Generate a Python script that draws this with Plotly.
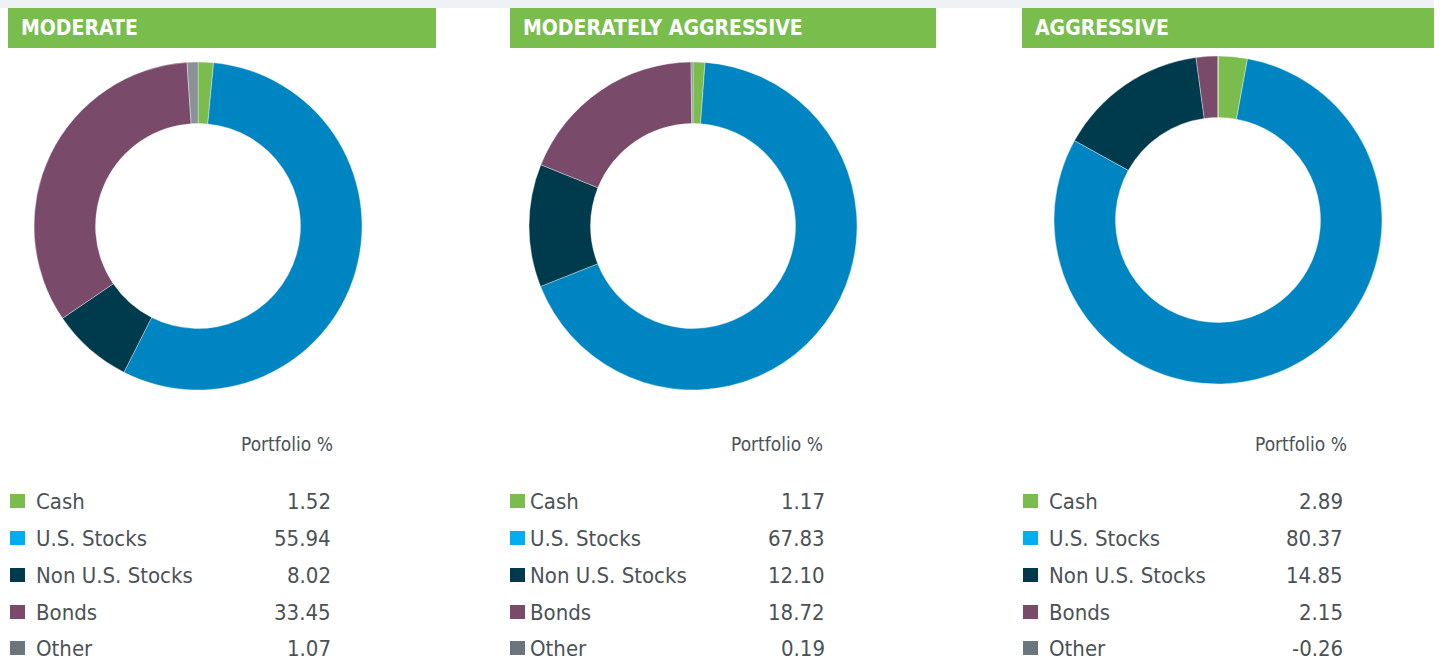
import plotly.graph_objects as go

W, H = 1440, 662

categories = ["Cash", "U.S. Stocks", "Non U.S. Stocks", "Bonds", "Other"]
portfolio_names = ["MODERATE", "MODERATELY AGGRESSIVE", "AGGRESSIVE"]
moderate = [1.52, 55.94, 8.02, 33.45, 1.07]
moderately_aggressive = [1.17, 67.83, 12.10, 18.72, 0.19]
aggressive = [2.89, 80.37, 14.85, 2.15, -0.26]
series = [moderate, moderately_aggressive, aggressive]
column_header = "Portfolio %"

pie_colors = ["#7ABD4C", "#0085C3", "#003A4D", "#7A4A6B", "#8A9199"]
legend_colors = ["#7ABD4C", "#00AEEF", "#003A4D", "#7A4A6B", "#6B757D"]
header_green = "#79BE4D"
text_color = "#4B5256"
FONT = "DejaVu Sans Condensed, Liberation Sans Narrow, Arial Narrow, sans-serif"

# layout in pixels
pie_centers = [(198, 226, 164), (693, 226, 164), (1218, 220, 164)]
header_boxes = [(8, 436), (510, 936), (1022, 1434)]
square_x = [10, 510, 1023]
label_x = [34, 528, 1047]
value_right = [333, 827, 1345]
pct_right = [335, 825, 1349]
row_y = [501, 538, 575, 612, 648]


def px(x):
    return x / W


def py(y):
    return 1 - y / H


fig = go.Figure()
shapes = []
annotations = []

# top gray strip
shapes.append(dict(type="rect", xref="paper", yref="paper", x0=0, x1=px(1434),
                   y0=py(8), y1=1, fillcolor="#EEF2F4", line=dict(width=0), layer="below"))

for i, vals in enumerate(series):
    cx, cy, r = pie_centers[i]
    fig.add_trace(go.Pie(
        labels=categories,
        values=[max(v, 0) for v in vals],
        hole=0.625,
        sort=False,
        direction="clockwise",
        rotation=0,
        textinfo="none",
        hoverinfo="label+value",
        marker=dict(colors=pie_colors, line=dict(color="rgba(255,255,255,0.6)", width=0.6)),
        domain=dict(x=[px(cx - r), px(cx + r)], y=[py(cy + r), py(cy - r)]),
        showlegend=False,
    ))
    x0, x1 = header_boxes[i]
    shapes.append(dict(type="rect", xref="paper", yref="paper", x0=px(x0), x1=px(x1),
                       y0=py(48), y1=py(8), fillcolor=header_green, line=dict(width=0)))
    annotations.append(dict(text="<b>%s</b>" % portfolio_names[i], xref="paper", yref="paper",
                            x=px(x0 + 11), y=py(28), xanchor="left", yanchor="middle",
                            showarrow=False,
                            font=dict(family=FONT, size=21, color="white")))
    annotations.append(dict(text=column_header, xref="paper", yref="paper",
                            x=px(pct_right[i]), y=py(444), xanchor="right", yanchor="middle",
                            showarrow=False, font=dict(family=FONT, size=19, color=text_color)))
    for j, cat in enumerate(categories):
        yc = row_y[j]
        shapes.append(dict(type="rect", xref="paper", yref="paper",
                           x0=px(square_x[i]), x1=px(square_x[i] + 15),
                           y0=py(yc + 7), y1=py(yc - 7),
                           fillcolor=legend_colors[j], line=dict(width=0)))
        annotations.append(dict(text=cat, xref="paper", yref="paper",
                                x=px(label_x[i]), y=py(yc), xanchor="left", yanchor="middle",
                                showarrow=False, font=dict(family=FONT, size=22, color=text_color)))
        annotations.append(dict(text="%.2f" % vals[j], xref="paper", yref="paper",
                                x=px(value_right[i]), y=py(yc), xanchor="right", yanchor="middle",
                                showarrow=False, font=dict(family=FONT, size=22, color=text_color)))

fig.update_layout(
    width=W, height=H,
    margin=dict(l=0, r=0, t=0, b=0),
    paper_bgcolor="white", plot_bgcolor="white",
    shapes=shapes, annotations=annotations,
    showlegend=False,
)

fig.write_html("out.html")
